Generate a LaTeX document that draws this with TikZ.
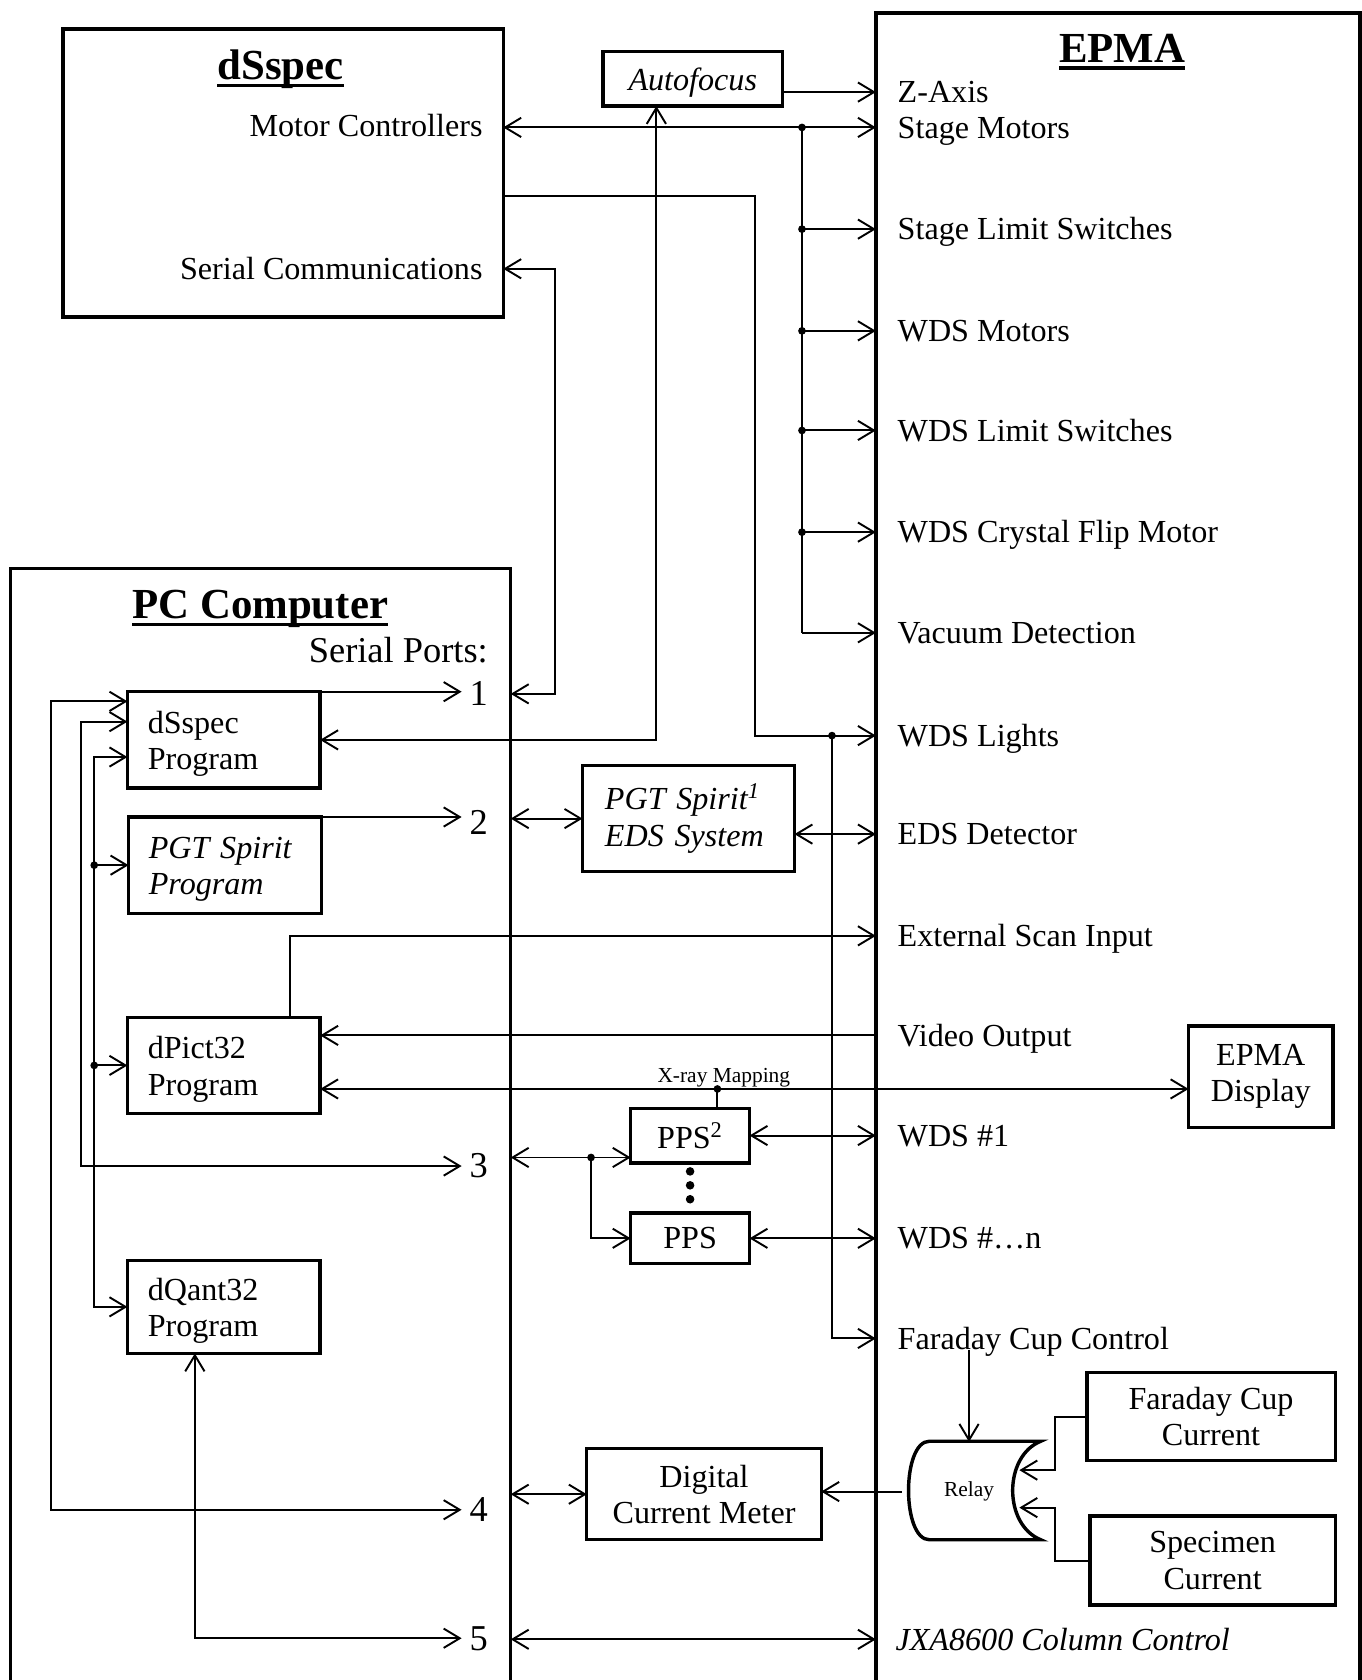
\documentclass[tikz,border=0pt]{standalone}
\usepackage{fontspec}
\setmainfont{Liberation Serif}
\usetikzlibrary{arrows.meta,positioning,calc}
\newcommand{\ultitle}[1]{\setbox0=\hbox{#1}\rlap{\rule[-3.5pt]{\wd0}{1.5pt}}\box0}
\begin{document}
\begin{tikzpicture}[x=0.5pt,y=-0.5pt,
		>={Straight Barb[length=7.5pt,width=9pt]},
		every node/.style={font=\fontsize{15}{17}\selectfont},
		wire/.style={line width=0.9pt},
		outer/.style={draw,line width=1.6pt,outer sep=0pt,anchor=north west},
		prog/.style={draw,line width=1.6pt,outer sep=0pt,minimum width=90pt,minimum height=45pt,inner xsep=9.5pt,text width=71pt,align=left,execute at begin node={\rule{0pt}{14pt}}},
		blk/.style={draw,line width=1.6pt,outer sep=0pt,align=center},
		drop/.style={execute at begin node={\rule{0pt}{13.5pt}}},
		ital/.style={font=\fontsize{15}{17}\selectfont\itshape},
		lbl/.style={anchor=west,inner sep=0pt,text height=10pt,text depth=0pt},
		port/.style={inner xsep=3.5pt,inner ysep=0pt,text height=11pt,text depth=0pt,font=\fontsize{17}{19}\selectfont},
		head/.style={anchor=base,font=\fontsize{20}{24}\selectfont\bfseries},
		small/.style={font=\fontsize{10}{12}\selectfont}
	]
	\useasboundingbox (0,0) rectangle (1272,1569);

	% big frames
	\node[outer,minimum width=205.5pt,minimum height=134.5pt] (dss) at (59,27) {};
	\node[outer,minimum width=226pt,minimum height=794pt] (epma) at (818,12) {};
	\node[outer,minimum width=233.5pt,minimum height=534.5pt] (pc) at (10,531) {};

	\node[head] (dsst) at (262,74) {\ultitle{dSspec}};
	\node[head] (epmat) at (1048,58) {\ultitle{EPMA}};
	\node[head] (pct) at (243,578) {\ultitle{PC Computer}};

	\node[anchor=east,inner sep=0pt] (motc) at (451,117) {Motor Controllers};
	\node[anchor=east,inner sep=0pt] (scom) at (451,251) {Serial Communications};
	\node[anchor=east,inner sep=0pt,font=\fontsize{17}{19}\selectfont] (spt) at (456,607) {Serial Ports:};

	% EPMA inputs
	\foreach \n/\y/\t in {zax/86/Z-Axis,stm/119/Stage Motors,sls/214/Stage Limit Switches,
			wdm/309/WDS Motors,wls/402/WDS Limit Switches,cfm/497/WDS Crystal Flip Motor,
			vac/591/Vacuum Detection,wlt/687/WDS Lights,edd/779/EDS Detector,
			esi/874/External Scan Input,vid/967/Video Output,w1/1061/WDS \#1,
			wn/1156/WDS \#…n,fcc/1250/Faraday Cup Control}
		\node[lbl] (\n) at (838,\y) {\t};
	\node[lbl,ital] (jxa) at (836,1531) {JXA8600 Column Control};

	% serial ports
	\foreach \n/\y in {1/648,2/768,3/1089,4/1410,5/1530}
		\node[port] (p\n) at (447,\y) {\n};

	% programs
	\node[prog] (dsp) at (209,691) {dSspec\\Program};
	\node[prog,ital] (pgp) at (210,808) {PGT Spirit\\Program};
	\node[prog] (dpp) at (209,995) {dPict32\\Program};
	\node[prog,minimum height=43.5pt] (dqp) at (209,1220.5) {dQant32\\Program};

	% hardware
	\node[blk,ital,minimum width=84pt,minimum height=25.5pt,text depth=0pt] (af) at (647,73.5) {Autofocus};
	\node[blk,ital,minimum width=99pt,minimum height=49.5pt,inner xsep=10.5pt,text width=78pt,align=left] (eds) at (643,764.5) {PGT Spirit\textsuperscript{1}\\EDS System};
	\node[blk,minimum width=55.5pt,minimum height=25.5pt] (pps1) at (644.5,1060.5) {PPS\textsuperscript{2}};
	\node[blk,minimum width=55.5pt,minimum height=23.5pt,text depth=0pt] (ppsn) at (644.5,1156.5) {PPS};
	\node[blk,minimum width=67.5pt,minimum height=47.5pt] (disp) at (1177.5,1005.5) {EPMA\\Display};
	\node[blk,drop,minimum width=109.5pt,minimum height=42.5pt] (dcm) at (657.5,1395.5) {Digital\\Current Meter};
	\node[blk,drop,minimum width=116pt,minimum height=41pt] (fcur) at (1131,1323) {Faraday Cup\\Current};
	\node[blk,drop,minimum width=114.5pt,minimum height=41.5pt] (spec) at (1132.5,1457.5) {Specimen\\Current};
	\node[small,minimum width=62.5pt,minimum height=46pt] (relay) at (905,1393) {Relay};
	\draw[line width=1.6pt] (868,1346) -- (972,1346) .. controls (937,1360) and (937,1424) .. (972,1438)
		-- (868,1438) .. controls (842,1438) and (842,1346) .. cycle;

	\coordinate (bus) at (749,0);
	\coordinate (lgt) at (705,183);
	\coordinate (fcj) at (777,0);
	\coordinate (scj) at (518,0);
	\coordinate (afj) at (613,0);
	\coordinate (lo) at (48,655);
	\coordinate (lm) at (76,674);
	\coordinate (li) at (88,707);
	\coordinate (xr) at (670,1017);
	\coordinate (p3j) at (552,1081);
	\coordinate (rin1) at (952,1373);
	\coordinate (rin2) at (952,1408);

	% dSspec side
	\draw[wire,->] (af.east |- zax) -- (epma.west |- zax);
	\draw[wire,<->] (dss.east |- stm) -- (epma.west |- stm);
	\draw[wire] (bus |- stm) -- (bus |- vac);
	\fill (bus |- stm) circle (1.8pt);
	\foreach \n in {sls,wdm,wls,cfm}{
		\draw[wire,->] (bus |- \n) -- (epma.west |- \n);
		\fill (bus |- \n) circle (1.8pt);
	}
	\draw[wire,->] (bus |- vac) -- (epma.west |- vac);
	\draw[wire,->] (dss.east |- lgt) -- (lgt) |- (epma.west |- wlt);
	\fill (fcj |- wlt) circle (1.8pt);
	\draw[wire,->] (fcj |- wlt) |- (epma.west |- fcc);
	\draw[wire,<->] (dss.east |- scom) -| (scj |- p1) -- (pc.east |- p1);
	\draw[wire,<->] (afj |- af.south) -- (afj |- dsp) -- (dsp.east);

	% ports
	\draw[wire,->] (dsp.north east) -- (dsp.north east -| p1.west);
	\draw[wire,->] (pgp.north east) -- (pgp.north east -| p2.west);
	\draw[wire,<->] (pc.east |- eds) -- (eds.west);
	\draw[wire,<->] (eds.east |- edd) -- (epma.west |- edd);
	\draw[wire,<->] (dsp.west |- lo) -- (lo) |- (p4.west);
	\draw[wire,<->] (dsp.west |- lm) -- (lm) |- (p3.west);
	\draw[wire,<->] (dsp.west |- li) -- (li) |- (dqp.west);
	\foreach \n in {pgp,dpp}{
		\draw[wire,->] (li |- \n) -- (\n.west);
		\fill (li |- \n) circle (1.8pt);
	}
	\draw[wire,<->] ([xshift=-13.5pt]dqp.south) |- (p5.west);

	% dPict32
	\draw[wire,->] ([xshift=31pt]dpp.north) |- (epma.west |- esi);
	\draw[wire,->] (epma.west |- vid) -- (dpp.east |- vid);
	\draw[wire,<->] (dpp.east |- xr) -- (disp.west |- xr);
	\fill (xr) circle (1.8pt);
	\draw[wire] (xr) -- (xr |- pps1.north);
	\node[small,anchor=base] (xrl) at (676,1011) {X-ray Mapping};

	% WDS
	\draw[wire,<->] (pc.east |- p3j) -- (pps1.west |- p3j);
	\fill (p3j) circle (1.8pt);
	\draw[wire,->] (p3j) |- (ppsn.west);
	\draw[wire,<->] (pps1.east) -- (epma.west |- pps1);
	\draw[wire,<->] (ppsn.east) -- (epma.west |- ppsn);
	\foreach \y in {1094,1107,1120}
		\fill (644.5,\y) circle (2pt);

	% current meter
	\draw[wire,<->] (pc.east |- dcm) -- (dcm.west);
	\draw[wire,->] (relay.west) -- (dcm.east |- relay.west);
	\draw[wire,->] (relay.north |- fcc.south) -- (relay.north);
	\draw[wire,->] (fcur.west) -- ++(-30,0) |- (rin1);
	\draw[wire,->] (spec.west) -- ++(-33,0) |- (rin2);
	\draw[wire,<->] (pc.east |- jxa) -- (epma.west |- jxa);
\end{tikzpicture}
\end{document}
